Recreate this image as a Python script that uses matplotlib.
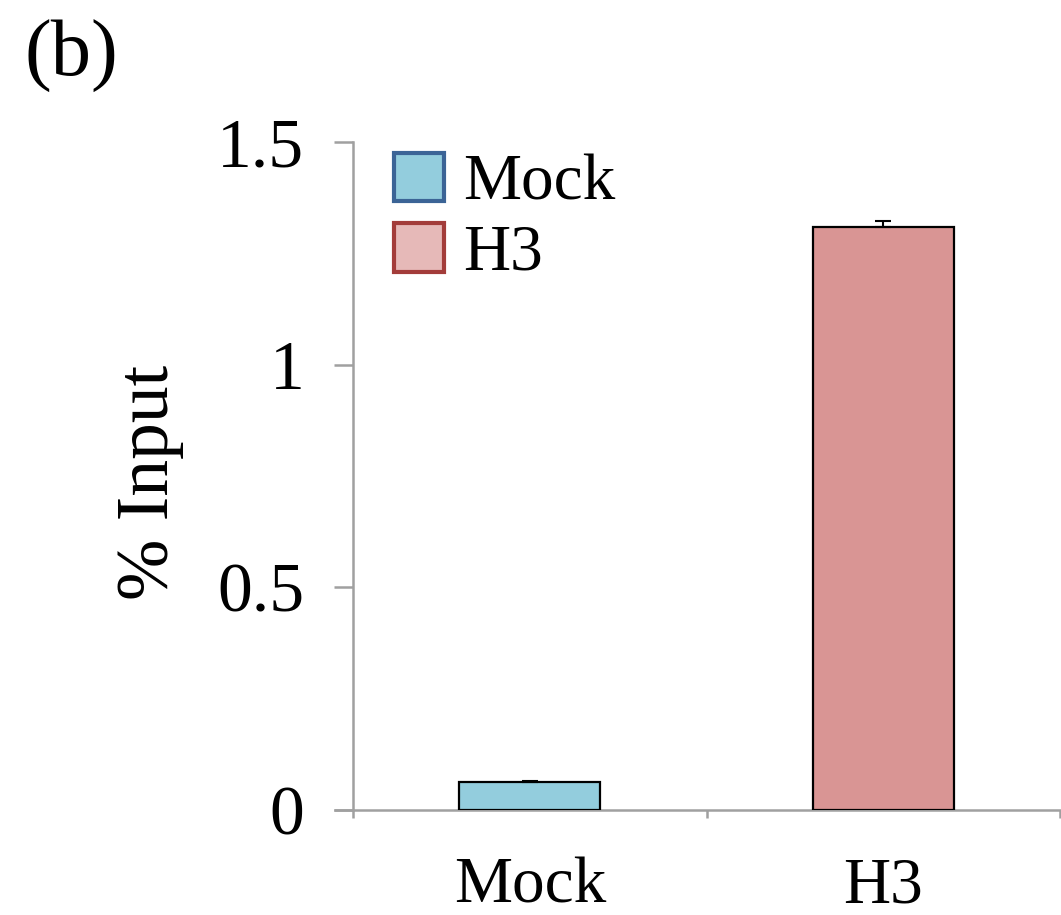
import matplotlib
matplotlib.use("Agg")
import matplotlib.pyplot as plt
from matplotlib.patches import Patch

categories = ["Mock", "H3"]
values = [0.063, 1.31]
errors = [0.002, 0.012]
bar_colors = ["#93cddd", "#d99594"]
legend_labels = ["Mock", "H3"]
legend_faces = ["#93cddd", "#e6b9b8"]
legend_edges = ["#3b6496", "#a33c3a"]
yticks = [0, 0.5, 1, 1.5]
ytick_labels = ["0", "0.5", "1", "1.5"]

plt.rcParams['font.family'] = ['Liberation Serif', 'DejaVu Serif']

fig = plt.figure(figsize=(10.61, 9.15), dpi=100)
ax = fig.add_axes([335/1061, 1-810/915, (1060-335)/1061, (810-142)/915])

x = [0.5, 1.5]
ax.bar(x, values, width=0.4, color=bar_colors, edgecolor="black", linewidth=1.6, zorder=3)
ax.errorbar(x, values, yerr=[[0, 0], errors], fmt="none", ecolor="black",
            elinewidth=1.5, capsize=6, capthick=1.5, zorder=4)

ax.set_xlim(-0.051, 2.0)
ax.set_ylim(0, 1.5)

for s in ["top", "right"]:
    ax.spines[s].set_visible(False)
ax.spines["left"].set_position(("data", 0))
ax.spines["left"].set_color("#a0a0a0")
ax.spines["bottom"].set_color("#a0a0a0")
ax.spines["left"].set_linewidth(1.8)
ax.spines["bottom"].set_linewidth(1.8)

ax.set_yticks(yticks)
ax.set_yticklabels(ytick_labels)
ax.tick_params(axis="y", length=14, width=1.8, color="#a0a0a0", pad=21, labelsize=50)

ax.set_xticks([0, 1, 2])
ax.set_xticklabels(["", "", ""])
ax.tick_params(axis="x", which="major", length=6, width=1.8, color="#a0a0a0", direction="out")
ax.set_xticks(x, minor=True)
ax.set_xticklabels(categories, minor=True)
ax.tick_params(axis="x", which="minor", length=0, pad=34, labelsize=47)

handles = [Patch(facecolor=f, edgecolor=e, linewidth=3) for f, e in zip(legend_faces, legend_edges)]
ax.legend(handles, legend_labels, loc="upper left", bbox_to_anchor=(0.0, 1.072),
          frameon=False, fontsize=47, handlelength=0.77, handleheight=0.77,
          handletextpad=0.3, labelspacing=0.14)

fig.text(150/1061, 1-482/915, "% Input", rotation=90, fontsize=53, ha="center", va="center")
fig.text(24/1061, 1-20/915, "(b)", fontsize=58, ha="left", va="top")

fig.savefig("out.png", dpi=100)
